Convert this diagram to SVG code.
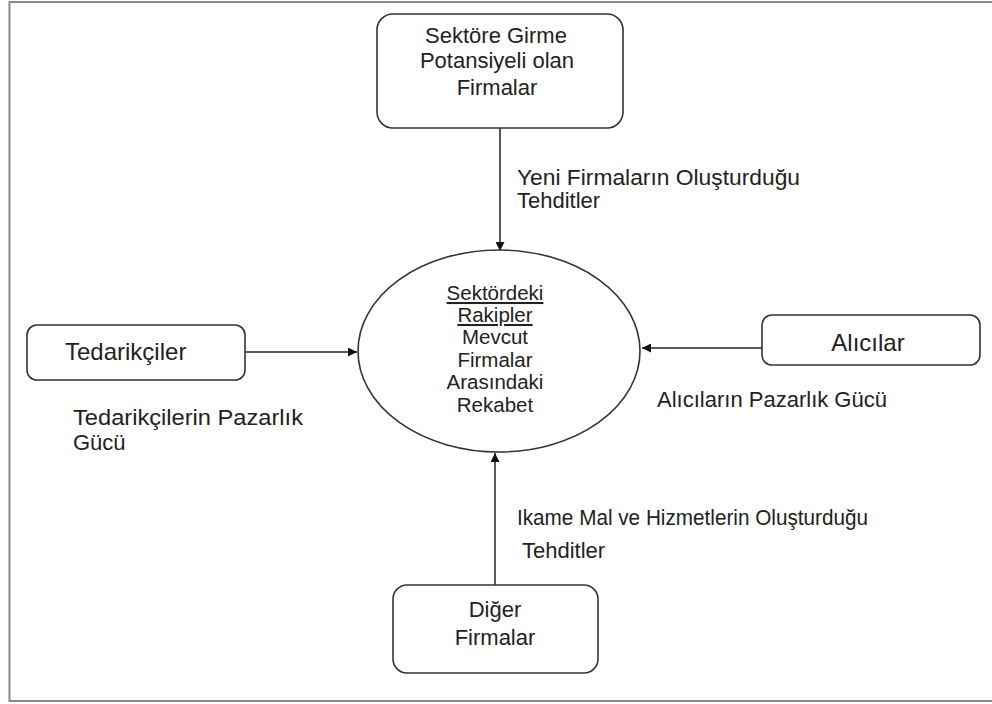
<svg xmlns="http://www.w3.org/2000/svg" width="992" height="704" viewBox="0 0 992 704">
<defs>
<style>
.box{fill:#fff;stroke:#333;stroke-width:1.6}
.t{font-family:"Liberation Sans",Arial,sans-serif;fill:#222;font-size:22px}
.b{font-size:24px}
.c{text-anchor:middle}
.e{font-size:20.5px}
.ln{stroke:#222;stroke-width:1.5;fill:none}
</style>
<marker id="ah" viewBox="0 0 10 10" refX="10" refY="5" markerWidth="9" markerHeight="9" markerUnits="userSpaceOnUse" orient="auto"><path d="M0,0 L10,5 L0,10 z" fill="#111"/></marker>
</defs>
<rect x="0" y="0" width="992" height="704" fill="#fff"/>
<rect x="9.5" y="2" width="1000" height="699" fill="none" stroke="#888" stroke-width="2"/>
<g id="connectors">
<line class="ln" x1="500" y1="128" x2="500" y2="251" marker-end="url(#ah)"/>
<line class="ln" x1="245" y1="352" x2="357" y2="352" marker-end="url(#ah)"/>
<line class="ln" x1="762" y1="348" x2="642" y2="348" marker-end="url(#ah)"/>
<line class="ln" x1="495" y1="585" x2="495" y2="453" marker-end="url(#ah)"/>
<text class="t" x="517" y="185" textLength="283" lengthAdjust="spacingAndGlyphs">Yeni Firmaların Oluşturduğu</text>
<text class="t" x="517" y="208">Tehditler</text>
<text class="t" x="73" y="425" textLength="230" lengthAdjust="spacingAndGlyphs">Tedarikçilerin Pazarlık</text>
<text class="t" x="73" y="450">Gücü</text>
<text class="t" x="657" y="407" textLength="230" lengthAdjust="spacingAndGlyphs">Alıcıların Pazarlık Gücü</text>
<text class="t" x="517" y="525" textLength="351" lengthAdjust="spacingAndGlyphs">Ikame Mal ve Hizmetlerin Oluşturduğu</text>
<text class="t" x="522" y="558">Tehditler</text>
</g>
<g id="node-top">
<rect class="box" x="377" y="14" width="246" height="114" rx="16"/>
<text class="t c" x="496" y="43">Sektöre Girme</text>
<text class="t c" x="497" y="68">Potansiyeli olan</text>
<text class="t c" x="497" y="95">Firmalar</text>
</g>
<g id="node-center">
<ellipse class="box" cx="499" cy="351" rx="141" ry="101"/>
<text class="t c e" x="495" y="300" text-decoration="underline">Sektördeki</text>
<text class="t c e" x="495" y="322" text-decoration="underline">Rakipler</text>
<text class="t c e" x="495" y="344">Mevcut</text>
<text class="t c e" x="495" y="367">Firmalar</text>
<text class="t c e" x="495" y="389">Arasındaki</text>
<text class="t c e" x="495" y="412">Rekabet</text>
</g>
<g id="node-left">
<rect class="box" x="27" y="325" width="218" height="55" rx="10"/>
<text class="t b" x="65" y="360">Tedarikçiler</text>
</g>
<g id="node-right">
<rect class="box" x="762" y="315" width="218" height="50" rx="10"/>
<text class="t c b" x="868" y="351">Alıcılar</text>
</g>
<g id="node-bottom">
<rect class="box" x="393" y="585" width="205" height="88" rx="14"/>
<text class="t c" x="495" y="617">Diğer</text>
<text class="t c" x="495" y="645">Firmalar</text>
</g>
</svg>
